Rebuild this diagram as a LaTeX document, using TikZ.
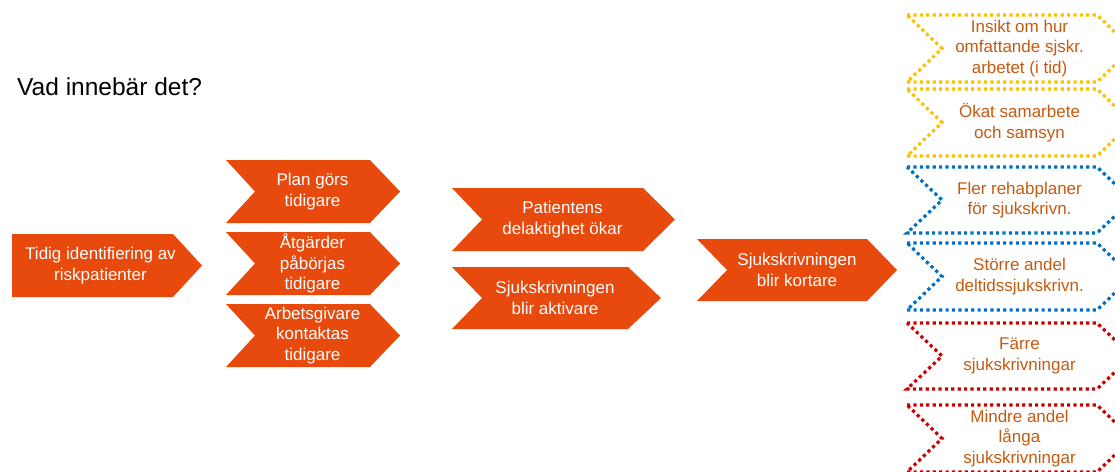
\documentclass[tikz,border=0pt]{standalone}
\usepackage{fontspec}
\setmainfont{Liberation Sans}
\usepackage{tikz}
\usetikzlibrary{calc}
\definecolor{chevorange}{RGB}{232,74,14}
\definecolor{txtbrown}{RGB}{197,90,17}
\definecolor{dotyellow}{RGB}{255,192,0}
\definecolor{dotblue}{RGB}{0,112,192}
\definecolor{dotred}{RGB}{204,0,0}
\tikzset{
  boxfont/.style={font=\fontsize{17}{20.5}\selectfont, align=center, inner sep=0pt},
  solid chev/.style={fill=chevorange, draw=none},
  solid chev text/.style={boxfont, text=white},
  first chev/.style={solid chev},
  first chev text/.style={solid chev text, xshift=8pt},
  % dotted outlines of the outcome column
  dotchev/.style={line width=3.2pt, dash pattern=on 3.2pt off 3.2pt, line join=miter},
  yellow chev/.style={dotchev, draw=dotyellow},
  blue chev/.style={dotchev, draw=dotblue},
  red chev/.style={dotchev, draw=dotred},
  yellow chev text/.style={boxfont, text=txtbrown},
  blue chev text/.style={boxfont, text=txtbrown},
  red chev text/.style={boxfont, text=txtbrown},
}
% #1 name, #2 style, #3 left, #4 tip, #5 top, #6 bottom, #7 tip depth, #8 notch depth, #9 text
\newcommand{\chevbox}[9]{%
  \draw[#2] (#3,#5) -- ({#4-#7},#5) -- (#4,{(#5+#6)/2}) -- ({#4-#7},#6)
    -- (#3,#6) -- ({#3+#8},{(#5+#6)/2}) -- cycle;
  \node[#2 text] (#1) at ({(#3+#8+#4-#7)/2},{(#5+#6)/2}) {#9};}

\begin{document}
\begin{tikzpicture}[x=1pt, y=-1pt]
  \useasboundingbox (0,0) rectangle (1115,471);
  \node[anchor=west, inner sep=0pt, font=\fontsize{24.5}{28}\selectfont] (title) at (17,87) {Vad innebär det?};
  % orange steps
  \chevbox{ident}{first chev}{12}{202}{234}{297}{29}{0}{Tidig identifiering av\\riskpatienter}
  \chevbox{plan}{solid chev}{226}{400}{160}{223}{30}{29}{Plan görs\\tidigare}
  \chevbox{atgard}{solid chev}{226}{400}{232}{295}{30}{29}{Åtgärder\\påbörjas\\tidigare}
  \chevbox{arbgiv}{solid chev}{226}{400}{304}{367}{30}{29}{Arbetsgivare\\kontaktas\\tidigare}
  \chevbox{delakt}{solid chev}{452}{675}{188}{251}{32}{30}{Patientens\\delaktighet ökar}
  \chevbox{aktiv}{solid chev}{452}{661}{267}{329}{33}{30}{Sjukskrivningen\\blir aktivare}
  \chevbox{kort}{solid chev}{697}{897}{239}{301}{30}{30}{Sjukskrivningen\\blir kortare}
  % outcomes
  \chevbox{insikt}{yellow chev}{907}{1132}{15}{82}{35}{35}{Insikt om hur\\omfattande sjskr.\\arbetet (i tid)}
  \chevbox{samarb}{yellow chev}{907}{1132}{89}{156}{35}{35}{Ökat samarbete\\och samsyn}
  \chevbox{rehab}{blue chev}{907}{1132}{167}{233}{35}{35}{Fler rehabplaner\\för sjukskrivn.}
  \chevbox{deltid}{blue chev}{907}{1132}{243}{310}{35}{35}{Större andel\\deltidssjukskrivn.}
  \chevbox{farre}{red chev}{907}{1132}{323}{389}{35}{35}{Färre\\sjukskrivningar}
  \chevbox{langa}{red chev}{907}{1132}{405}{472}{35}{35}{Mindre andel\\långa\\sjukskrivningar}
\end{tikzpicture}
\end{document}
